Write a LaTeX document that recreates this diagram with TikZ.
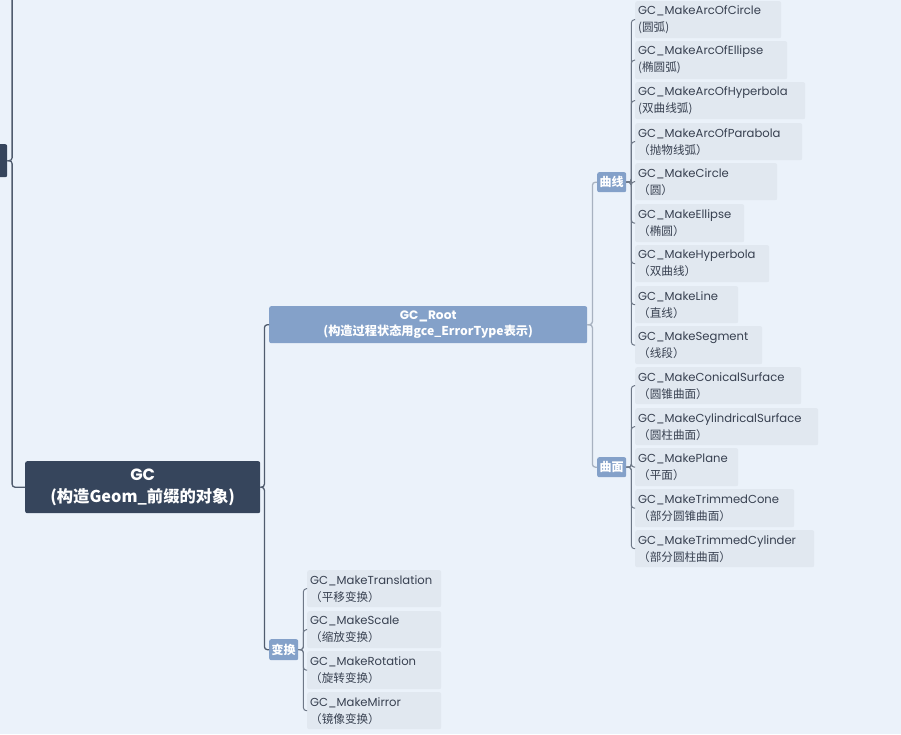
\documentclass[tikz,border=0pt]{standalone}
\usepackage{fontspec}
\setmainfont{Poppins}
\newfontfamily\cjk{Noto Sans CJK SC}
\definecolor{bgc}{RGB}{235,242,250}
\definecolor{childfill}{RGB}{225,232,240}
\definecolor{darkfill}{RGB}{54,69,92}
\definecolor{midfill}{RGB}{132,161,201}
\definecolor{txt}{RGB}{55,64,80}
\definecolor{lineA}{RGB}{80,92,110}
\definecolor{lineB}{RGB}{168,178,192}
\definecolor{lineC}{RGB}{110,120,135}
\tikzset{
  childbox/.style={fill=childfill, rounded corners=2pt, inner xsep=3pt, inner ysep=0pt, align=left, text=txt,
    font=\fontsize{11.6}{17}\selectfont},
  darkbox/.style={fill=darkfill, rounded corners=2pt, text=white, align=center, inner sep=0pt,
    font=\fontsize{16.3}{21.5}\selectfont\bfseries},
  rootbox/.style={fill=midfill, rounded corners=2pt, text=white, align=center, inner sep=0pt,
    font=\fontsize{12.2}{16}\selectfont\bfseries},
  tagbox/.style={fill=midfill, rounded corners=2pt, text=white, align=center, inner sep=0pt,
    font=\fontsize{12}{13}\selectfont\bfseries},
  connA/.style={draw=lineA, line width=1.3pt, rounded corners=3pt},
  connB/.style={draw=lineB, line width=1.3pt, rounded corners=3pt},
  connC/.style={draw=lineC, line width=1pt, rounded corners=3pt},
}
\newcommand\mnode[7]{%
  \pgfmathsetlengthmacro\mw{(#5)-(#3)}%
  \pgfmathsetlengthmacro\mh{(#6)-(#4)}%
  \pgfmathsetlengthmacro\tw{(#5)-(#3)-6}%
  \node[#1, anchor=north west, minimum width=\mw, minimum height=\mh, text width=\tw] (#2) at (#3,#4) {#7};}
\newcommand\bnode[7]{%
  \pgfmathsetlengthmacro\mw{(#5)-(#3)}%
  \pgfmathsetlengthmacro\mh{(#6)-(#4)}%
  \node[#1, anchor=north west, minimum width=\mw, minimum height=\mh] (#2) at (#3,#4) {#7};}
\begin{document}
\begin{tikzpicture}[x=1pt,y=-1pt]
\fill[bgc] (0,0) rectangle (901,734);
\useasboundingbox (0,0) rectangle (901,734);
\clip (0,0) rectangle (901,734);

% left-most partial parent node and GC
\bnode{darkbox}{prev}{-20}{144}{7}{177}{}
\bnode{darkbox}{gc}{25}{461}{260}{513}{GC\\\cjk{(构造}Geom\_\cjk{前缀的对象)}}
\coordinate (topend) at (11.7,-10);

% level 2
\bnode{rootbox}{root}{269}{306}{587}{343}{GC\_Root\\\cjk{(构造过程状态用}gce\_ErrorType\cjk{表示)}}
\bnode{tagbox}{trans}{269}{639}{298}{660}{\cjk{变换}}

% level 3
\bnode{tagbox}{curve}{597}{172}{626}{192}{\cjk{曲线}}
\bnode{tagbox}{surf}{597}{457}{626}{477}{\cjk{曲面}}

% curves
\mnode{childbox}{c1}{635}{1}{781}{38}{GC\_MakeArcOfCircle\\\cjk{(圆弧)}}
\mnode{childbox}{c2}{635}{41}{787}{79}{GC\_MakeArcOfEllipse\\\cjk{(椭圆弧)}}
\mnode{childbox}{c3}{635}{82}{805}{119}{GC\_MakeArcOfHyperbola\\\cjk{(双曲线弧)}}
\mnode{childbox}{c4}{635}{123}{802}{160}{GC\_MakeArcOfParabola\\\cjk{（抛物线弧）}}
\mnode{childbox}{c5}{635}{163}{777}{200}{GC\_MakeCircle\\\cjk{（圆）}}
\mnode{childbox}{c6}{635}{204}{744}{242}{GC\_MakeEllipse\\\cjk{（椭圆）}}
\mnode{childbox}{c7}{635}{245}{769}{282}{GC\_MakeHyperbola\\\cjk{（双曲线）}}
\mnode{childbox}{c8}{635}{286}{738}{323}{GC\_MakeLine\\\cjk{（直线）}}
\mnode{childbox}{c9}{635}{326}{762}{364}{GC\_MakeSegment\\\cjk{（线段）}}

% surfaces
\mnode{childbox}{s1}{635}{367}{801}{404}{GC\_MakeConicalSurface\\\cjk{（圆锥曲面）}}
\mnode{childbox}{s2}{635}{408}{818}{445}{GC\_MakeCylindricalSurface\\\cjk{（圆柱曲面）}}
\mnode{childbox}{s3}{635}{448}{738}{486}{GC\_MakePlane\\\cjk{（平面）}}
\mnode{childbox}{s4}{635}{489}{794}{527}{GC\_MakeTrimmedCone\\\cjk{（部分圆锥曲面）}}
\mnode{childbox}{s5}{635}{530}{814}{567}{GC\_MakeTrimmedCylinder\\\cjk{（部分圆柱曲面）}}

% transforms
\mnode{childbox}{t1}{307}{570}{441}{607}{GC\_MakeTranslation\\\cjk{（平移变换）}}
\mnode{childbox}{t2}{307}{611}{441}{648}{GC\_MakeScale\\\cjk{（缩放变换）}}
\mnode{childbox}{t3}{307}{651}{441}{689}{GC\_MakeRotation\\\cjk{（旋转变换）}}
\mnode{childbox}{t4}{307}{692}{441}{729}{GC\_MakeMirror\\\cjk{（镜像变换）}}

% connectors
\draw[connA] (prev.east) -- ++(4.7,0) |- (gc.west);
\draw[connA] (prev.east) -- ++(4.7,0) |- (topend);
\draw[connA] (gc.east) -- ++(4,0) |- (root.west);
\draw[connA] (gc.east) -- ++(4,0) |- (trans.west);
\draw[connB] (root.east) -- ++(5,0) |- (curve.west);
\draw[connB] (root.east) -- ++(5,0) |- (surf.west);
\foreach \c in {c1,c2,c3,c4,c5,c6,c7,c8,c9}
  \draw[connC] (curve.east) -- ++(5,0) |- (\c.west);
\foreach \c in {s1,s2,s3,s4,s5}
  \draw[connC] (surf.east) -- ++(5,0) |- (\c.west);
\foreach \c in {t1,t2,t3,t4}
  \draw[connC] (trans.east) -- ++(5,0) |- (\c.west);
\end{tikzpicture}
\end{document}
